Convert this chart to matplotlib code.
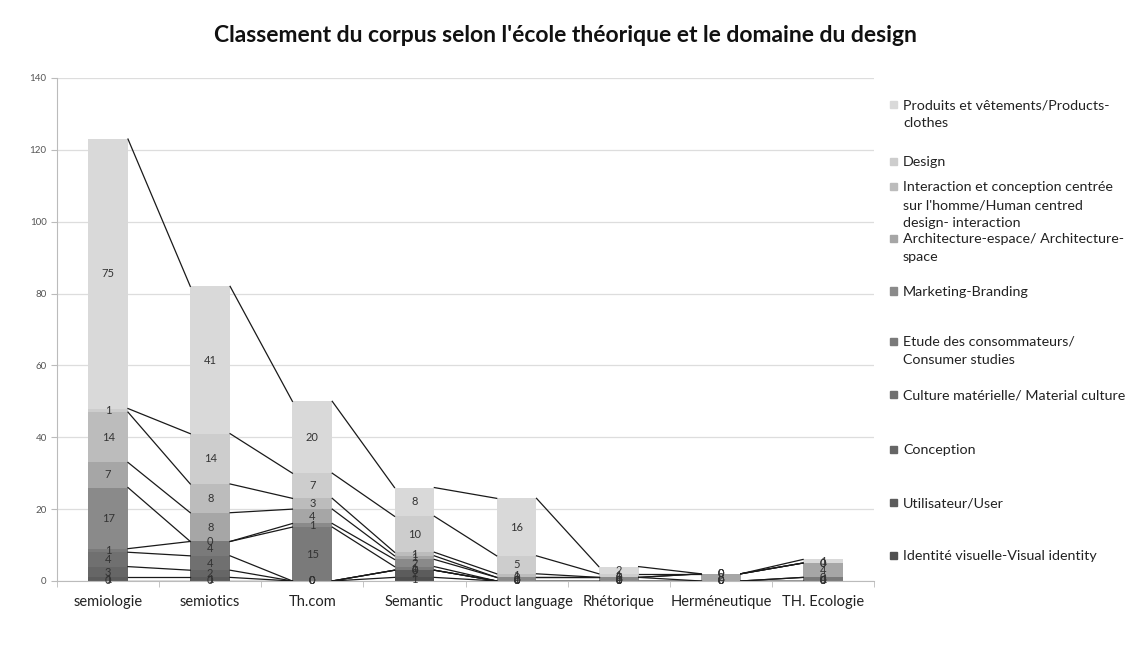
import numpy as np
import matplotlib
matplotlib.use("Agg")
import matplotlib.pyplot as plt
from matplotlib.patches import Rectangle

plt.rcParams['font.family'] = ['Lato', 'DejaVu Sans']

# Catégories (écoles théoriques)
categories = ['semiologie', 'semiotics', 'Th.com', 'Semantic', 'Product language',
              'Rhétorique', 'Herméneutique', 'TH. Ecologie']

# Séries (domaines du design), du bas vers le haut
identite = [0, 0, 0, 1, 0, 0, 0, 0]
utilisateur = [1, 1, 0, 2, 0, 0, 0, 0]
conception = [3, 2, 0, 0, 0, 0, 0, 0]
culture = [4, 4, 0, 0, 0, 0, 0, 0]
etude = [1, 4, 15, 1, 0, 0, 0, 1]
marketing = [17, 0, 1, 2, 1, 1, 0, 0]
architecture = [7, 8, 4, 1, 0, 0, 2, 4]
interaction = [14, 8, 3, 1, 1, 0, 0, 0]
design = [1, 14, 7, 10, 5, 1, 0, 0]
produits = [75, 41, 20, 8, 16, 2, 0, 1]

series_names = [
    "Identité visuelle-Visual identity",
    "Utilisateur/User",
    "Conception",
    "Culture matérielle/ Material culture",
    "Etude des consommateurs/\nConsumer studies",
    "Marketing-Branding",
    "Architecture-espace/ Architecture-\nspace",
    "Interaction et conception centrée\nsur l'homme/Human centred\ndesign- interaction",
    "Design",
    "Produits et vêtements/Products-\nclothes",
]
series_values = [identite, utilisateur, conception, culture, etude,
                 marketing, architecture, interaction, design, produits]
colors = ['#505050', '#5c5c5c', '#666666', '#707070', '#7a7a7a',
          '#8a8a8a', '#a6a6a6', '#bcbcbc', '#cdcdcd', '#d9d9d9']

fig = plt.figure(figsize=(11.31, 6.57), dpi=100)
ax = fig.add_axes([0.0504, 0.1157, 0.7224, 0.7656])

x = np.arange(len(categories))
w = 0.39
bottom = np.zeros(len(categories))
tops = []
for vals, col in zip(series_values, colors):
    vals = np.array(vals, dtype=float)
    ax.bar(x, vals, w, bottom=bottom, color=col, zorder=2)
    for xi, v, b in zip(x, vals, bottom):
        ax.text(xi, b + v / 2, f"{int(v)}", ha='center', va='center',
                fontsize=8, color='#333333', zorder=4)
    bottom = bottom + vals
    tops.append(bottom.copy())

# Lignes de série entre les barres
for t in tops:
    for i in range(len(categories) - 1):
        ax.plot([x[i] + w / 2, x[i + 1] - w / 2], [t[i], t[i + 1]],
                color='#1a1a1a', lw=0.9, zorder=3)

ax.set_xlim(-0.5, len(categories) - 0.5)
ax.set_ylim(0, 140)
ax.set_yticks(range(0, 141, 20))
ax.tick_params(axis='y', labelsize=7, colors='#555555', length=4, color='#bbbbbb')
ax.set_xticks(x)
ax.set_xticklabels(categories, fontsize=10.5, color='#222222')
ax.tick_params(axis='x', length=0, pad=10)
ax.set_xticks(np.arange(-0.5, len(categories), 1), minor=True)
ax.tick_params(axis='x', which='minor', length=4, color='#bbbbbb')
ax.grid(axis='y', color='#dddddd', lw=0.9, zorder=0)
ax.set_axisbelow(True)
for s in ['top', 'right']:
    ax.spines[s].set_visible(False)
ax.spines['left'].set_color('#bbbbbb')
ax.spines['bottom'].set_color('#bbbbbb')

fig.text(0.5, 1 - 35 / 657, "Classement du corpus selon l'école théorique et le domaine du design",
         ha='center', va='center', fontsize=16.5, fontweight='bold', color='#111111')

# Légende manuelle (ordre inversé, du haut vers le bas), première ligne de chaque entrée en pixels
legend_rows = [104, 161, 186, 238, 291, 341, 394, 449, 502, 555]
for y_first, name, col in zip(legend_rows, series_names[::-1], colors[::-1]):
    fig.patches.append(Rectangle((890 / 1131, 1 - (y_first + 3.5) / 657), 7 / 1131, 7 / 657,
                                 transform=fig.transFigure, color=col))
    fig.text(903 / 1131, 1 - (y_first - 5) / 657, name, ha='left', va='top', fontsize=10.3,
             color='#222222', linespacing=1.6)

fig.savefig("out.png", dpi=100, facecolor='white')
